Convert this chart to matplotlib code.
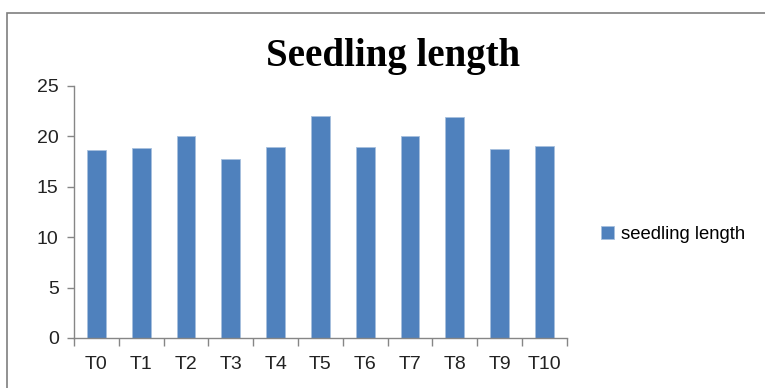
import numpy as np
import matplotlib
matplotlib.use("Agg")
import matplotlib.pyplot as plt
from matplotlib.patches import Rectangle

# data
treatments = ["T0", "T1", "T2", "T3", "T4", "T5", "T6", "T7", "T8", "T9", "T10"]
seedling_length = [18.6, 18.8, 20.0, 17.8, 18.9, 22.0, 18.9, 20.0, 21.9, 18.7, 19.0]
y_ticks = [0, 5, 10, 15, 20, 25]

bar_color = "#4F81BD"
axis_color = "#868686"

fig = plt.figure(figsize=(7.65, 3.88), dpi=100)
ax = fig.add_axes([0.0967, 0.1289, 0.6443, 0.6495])

x = np.arange(len(treatments))
ax.bar(x, seedling_length, width=0.42, color=bar_color, edgecolor="#A7C0DE",
       linewidth=0.6, label="seedling length")

ax.set_xlim(-0.5, len(treatments) - 0.5)
ax.set_ylim(0, 25)
ax.set_yticks(y_ticks)
ax.set_xticks(x)
ax.set_xticklabels(treatments)
ax.set_xticks(np.arange(-0.5, len(treatments)), minor=True)

ax.tick_params(axis="x", which="major", length=0, pad=13, labelsize=14)
ax.tick_params(axis="x", which="minor", length=6, color=axis_color, width=1)
ax.tick_params(axis="y", length=5, color=axis_color, width=1, labelsize=14, pad=6)
for lab in ax.get_xticklabels() + ax.get_yticklabels():
    lab.set_fontfamily("Liberation Sans")
    lab.set_color("#222222")

for side in ["top", "right"]:
    ax.spines[side].set_visible(False)
for side in ["left", "bottom"]:
    ax.spines[side].set_color(axis_color)
    ax.spines[side].set_linewidth(1)

fig.text(0.514, 0.855, "Seedling length", ha="center", va="center",
         fontsize=28, fontweight="bold", family="Liberation Serif")

leg = ax.legend(loc="center left", bbox_to_anchor=(1.035, 0.41), frameon=False,
                handlelength=0.7, handleheight=0.7, handletextpad=0.4,
                prop={"family": "Liberation Sans", "size": 13.3})

# outer chart border (cut off at right and bottom)
fig.patches.append(Rectangle((7 / 765, -0.05), 1.0, 1 - 13 / 388 + 0.05,
                             transform=fig.transFigure, fill=False,
                             edgecolor="#7F7F7F", linewidth=1.2))

fig.savefig("out.png", dpi=100)
